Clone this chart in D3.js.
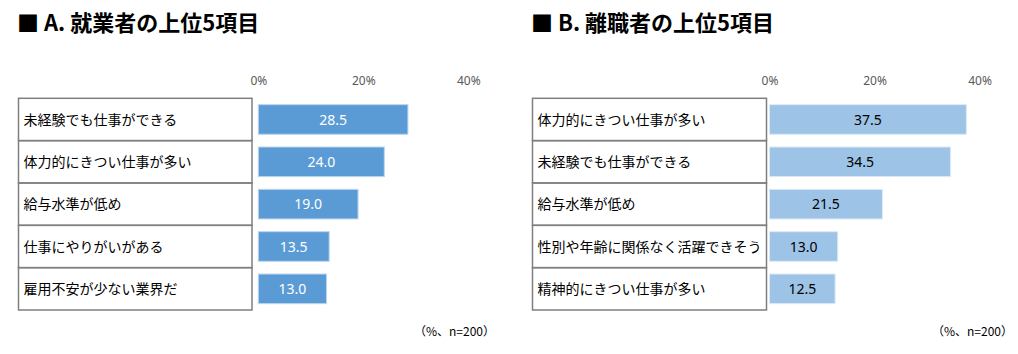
<!DOCTYPE html>
<html>
<head>
<meta charset="utf-8">
<script src="https://cdn.jsdelivr.net/npm/d3@7"></script>
<style>
  body { margin: 0; background: #fff; }
  svg text { font-family: "Noto Sans CJK JP", "Noto Sans", sans-serif; }
</style>
</head>
<body>
<div id="chart"></div>
<script>
// データ
const titleA = "■ A. 就業者の上位5項目";
const catsA = ["未経験でも仕事ができる", "体力的にきつい仕事が多い", "給与水準が低め", "仕事にやりがいがある", "雇用不安が少ない業界だ"];
const valsA = [28.5, 24.0, 19.0, 13.5, 13.0];

const titleB = "■ B. 離職者の上位5項目";
const catsB = ["体力的にきつい仕事が多い", "未経験でも仕事ができる", "給与水準が低め", "性別や年齢に関係なく活躍できそう", "精神的にきつい仕事が多い"];
const valsB = [37.5, 34.5, 21.5, 13.0, 12.5];

const tickVals = [0, 20, 40];
const note = "（%、n=200）";

const W = 1018, H = 354;
const svg = d3.select("#chart").append("svg")
    .attr("width", W)
    .attr("height", H);

// パネル描画
function drawPanel(opt) {
    const g = svg.append("g");

    // タイトル
    g.append("text")
        .attr("x", opt.boxLeft - 1.5)
        .attr("y", 31)
        .style("font-size", "22px")
        .style("font-weight", "bold")
        .style("fill", "#000")
        .text(opt.title);

    const x = d3.scaleLinear().domain([0, 40]).range([opt.x0, opt.x0 + 210]);
    const y = d3.scaleBand()
        .domain(opt.cats)
        .range([98.3, 310])
        .paddingInner(0.3)
        .paddingOuter(0.15);
    const step = y.step();

    // 目盛り
    const axis = g.append("g")
        .attr("transform", "translate(0,87)")
        .call(d3.axisTop(x).tickValues(tickVals).tickSize(0).tickPadding(2).tickFormat(d => d + "%"));
    axis.select(".domain").remove();
    axis.selectAll("text")
        .style("font-size", "12px")
        .style("fill", "#595959")
        .style("font-family", "\"Noto Sans\", sans-serif");

    // 表の枠
    const rows = g.append("g");
    opt.cats.forEach(c => {
        const top = y(c) - step * 0.15;
        rows.append("rect")
            .attr("x", opt.boxLeft)
            .attr("y", top)
            .attr("width", opt.boxRight - opt.boxLeft)
            .attr("height", step)
            .attr("fill", "none")
            .attr("stroke", "#7f7f7f")
            .attr("stroke-width", 1.5);
        rows.append("text")
            .attr("x", opt.boxLeft + 5)
            .attr("y", top + step / 2)
            .attr("dy", "0.36em")
            .style("font-size", "14px")
            .style("fill", "#000")
            .text(c);
    });

    // 棒
    const data = opt.cats.map((c, i) => ({ cat: c, val: opt.vals[i] }));
    g.selectAll(".bar")
        .data(data)
        .enter()
        .append("rect")
        .attr("class", "bar")
        .attr("x", x(0))
        .attr("y", d => y(d.cat))
        .attr("width", d => x(d.val) - x(0))
        .attr("height", y.bandwidth())
        .attr("fill", opt.color)
        .attr("stroke", opt.edge)
        .attr("stroke-width", 1);

    g.selectAll(".val")
        .data(data)
        .enter()
        .append("text")
        .attr("class", "val")
        .attr("x", d => (x(0) + x(d.val)) / 2)
        .attr("y", d => y(d.cat) + y.bandwidth() / 2)
        .attr("dy", "0.36em")
        .attr("text-anchor", "middle")
        .style("font-size", "14px")
        .style("fill", opt.valColor)
        .style("font-family", "\"Noto Sans\", sans-serif")
        .text(d => d.val.toFixed(1));

    // 注記
    g.append("text")
        .attr("x", opt.noteRight)
        .attr("y", 336)
        .attr("text-anchor", "end")
        .style("font-size", "12px")
        .style("fill", "#000")
        .text(note);
}

drawPanel({
    title: titleA, cats: catsA, vals: valsA,
    boxLeft: 18.5, boxRight: 252, x0: 258.3,
    color: "#5b9bd5", edge: "#bdd7ee", valColor: "#fff", noteRight: 495
});

drawPanel({
    title: titleB, cats: catsB, vals: valsB,
    boxLeft: 532.5, boxRight: 766.5, x0: 769.5,
    color: "#9dc3e6", edge: "#deebf7", valColor: "#000", noteRight: 1013
});
</script>
</body>
</html>
